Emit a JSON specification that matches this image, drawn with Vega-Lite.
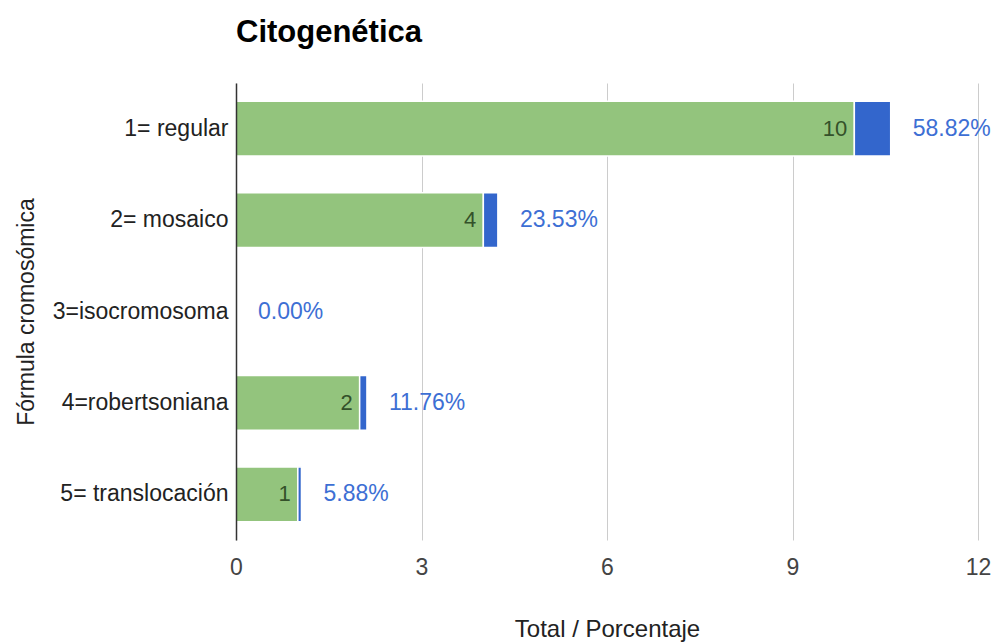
{
  "$schema": "https://vega.github.io/schema/vega-lite/v6.json",
  "width": 742,
  "height": 457,
  "autosize": {"type": "none"},
  "padding": {"left": 236, "top": 83, "right": 17, "bottom": 102},
  "background": "white",
  "title": {
    "text": "Citogenética",
    "anchor": "start",
    "frame": "group",
    "font": "Liberation Sans",
    "fontSize": 31,
    "fontWeight": "bold",
    "color": "#000000",
    "offset": 34
  },
  "config": {
    "view": {"stroke": null},
    "font": "Liberation Sans"
  },
  "data": {
    "values": [
      {"formula": "1= regular", "serie": "Total", "valor": 10},
      {"formula": "1= regular", "serie": "Porcentaje", "valor": 0.5882},
      {"formula": "2= mosaico", "serie": "Total", "valor": 4},
      {"formula": "2= mosaico", "serie": "Porcentaje", "valor": 0.2353},
      {"formula": "3=isocromosoma", "serie": "Total", "valor": 0},
      {"formula": "3=isocromosoma", "serie": "Porcentaje", "valor": 0},
      {"formula": "4=robertsoniana", "serie": "Total", "valor": 2},
      {"formula": "4=robertsoniana", "serie": "Porcentaje", "valor": 0.1176},
      {"formula": "5= translocación", "serie": "Total", "valor": 1},
      {"formula": "5= translocación", "serie": "Porcentaje", "valor": 0.0588}
    ]
  },
  "encoding": {
    "y": {
      "field": "formula",
      "type": "nominal",
      "sort": null,
      "scale": {"paddingInner": 0.4, "paddingOuter": 0.2},
      "axis": {
        "title": "Fórmula cromosómica",
        "titleFont": "Liberation Sans",
        "titleFontSize": 23,
        "titleFontWeight": "normal",
        "titleColor": "#222222",
        "titlePadding": 14,
        "labelFont": "Liberation Sans",
        "labelFontSize": 23,
        "labelLimit": 260,
        "labelColor": "#222222",
        "labelPadding": 8,
        "ticks": false,
        "domain": true,
        "domainColor": "#333333",
        "domainWidth": 1.5,
        "grid": false,
        "zindex": 1
      }
    },
    "x": {
      "field": "valor",
      "type": "quantitative",
      "stack": "zero",
      "scale": {"domain": [0, 12], "nice": false},
      "axis": {
        "title": "Total / Porcentaje",
        "titleFont": "Liberation Sans",
        "titleFontSize": 24,
        "titleFontWeight": "normal",
        "titleColor": "#222222",
        "titlePadding": 38,
        "values": [0, 3, 6, 9, 12],
        "labelFont": "Liberation Sans",
        "labelFontSize": 23,
        "labelColor": "#444444",
        "labelPadding": 16,
        "labelFlush": false,
        "ticks": false,
        "domain": false,
        "grid": true,
        "gridColor": "#cccccc",
        "gridWidth": 1
      }
    },
    "order": {"field": "serie", "sort": "descending"},
    "detail": {"field": "serie"}
  },
  "layer": [
    {
      "mark": {"type": "bar", "stroke": "white", "strokeWidth": 1.5},
      "encoding": {
        "color": {
          "field": "serie",
          "type": "nominal",
          "scale": {"domain": ["Total", "Porcentaje"], "range": ["#93c47d", "#3366cc"]},
          "legend": null
        }
      }
    },
    {
      "mark": {"type": "text", "align": "right", "baseline": "middle", "dx": -7, "fontSize": 22, "color": "#34512a"},
      "encoding": {
        "text": {
          "condition": {"test": "datum.serie === 'Total' && datum.valor > 0", "field": "valor", "type": "quantitative", "format": "d"},
          "value": ""
        }
      }
    },
    {
      "mark": {"type": "text", "align": "left", "baseline": "middle", "dx": 22, "fontSize": 23, "color": "#3d6fd4"},
      "encoding": {
        "text": {
          "condition": {"test": "datum.serie === 'Porcentaje'", "field": "valor", "type": "quantitative", "format": ".2%"},
          "value": ""
        }
      }
    }
  ]
}
